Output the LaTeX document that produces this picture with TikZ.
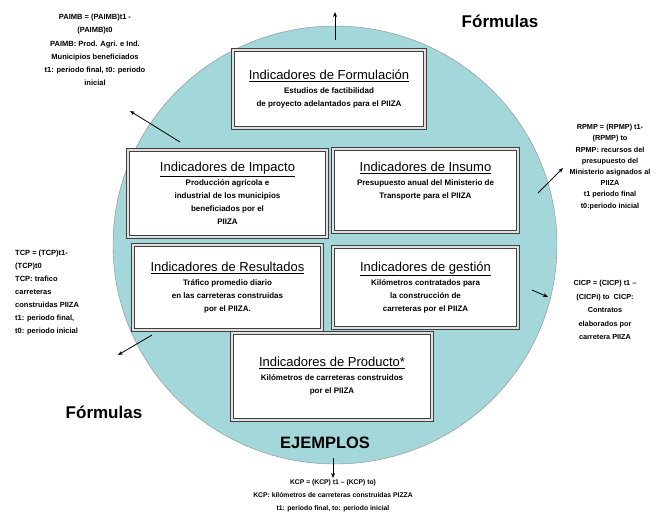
\documentclass[tikz,border=0pt]{standalone}
\usepackage{fontspec}
\setmainfont{Liberation Sans}
\usetikzlibrary{arrows.meta}
\definecolor{discteal}{RGB}{163,215,217}
\tikzstyle{indbox} = [draw=black!75, double=black!12, double distance=1.3pt, line width=1pt, fill=white, align=center, inner sep=2pt, font=\fontsize{8}{13}\selectfont\bfseries]
\tikzstyle{formtext} = [align=center, inner sep=1pt, font=\fontsize{7.5}{12}\selectfont\bfseries]
\tikzstyle{bigtitle} = [font=\fontsize{17}{20}\selectfont\bfseries]
\tikzstyle{pointer} = [draw, line width=0.8pt, -{Stealth[length=5pt,width=4pt]}]
\newcommand{\indtitle}[1]{{\fontsize{13}{15}\selectfont\mdseries\underline{#1}}\\[1pt]}

\begin{document}
\begin{tikzpicture}[x=1pt, y=-1pt]
    \useasboundingbox[fill=white] (0,0) rectangle (672,531);
    \draw[fill=discteal, draw=black!45, thin] (335,245) ellipse [x radius=222pt, y radius=219pt];

    \node[indbox, minimum width=192pt, minimum height=78pt] (formulacion) at (329,89) {\indtitle{Indicadores de Formulación}Estudios de factibilidad\\de proyecto adelantados para el PIIZA};
    \node[indbox, minimum width=199pt, minimum height=87pt] (impacto) at (227.5,193.5) {\indtitle{Indicadores de Impacto}Producción agrícola e\\industrial de los municipios\\beneficiados por el\\PIIZA};
    \node[indbox, minimum width=185pt, minimum height=83pt] (insumo) at (425.5,190.5) {\indtitle{Indicadores de Insumo}Presupuesto anual del Ministerio de\\Transporte para el PIIZA\\[8pt]\mbox{}};
    \node[indbox, minimum width=189pt, minimum height=85pt] (resultados) at (227.5,287.5) {\indtitle{Indicadores de Resultados}Tráfico promedio diario\\en las carreteras construidas\\por el PIIZA.};
    \node[indbox, minimum width=185pt, minimum height=81pt] (gestion) at (425.5,287.5) {\indtitle{Indicadores de gestión}Kilómetros contratados para\\la construcción de\\carreteras por el PIIZA};
    \node[indbox, minimum width=200pt, minimum height=87pt] (producto) at (332,376.5) {\indtitle{Indicadores de Producto*}Kilómetros de carreteras construidos\\por el PIIZA};

    \node[bigtitle] (formulas_top) at (500,21) {Fórmulas};
    \node[bigtitle] (formulas_bottom) at (104,412) {Fórmulas};
    \node[bigtitle, font=\fontsize{16.5}{20}\selectfont\bfseries] (ejemplos) at (325,443) {EJEMPLOS};

    \node[formtext, font=\fontsize{7.5}{13.2}\selectfont\bfseries] (paimb) at (95,50) {PAIMB = (PAIMB)t1 -\\(PAIMB)t0\\PAIMB: Prod. Agri. e Ind.\\Municipios beneficiados\\t1: periodo final, t0: periodo\\inicial};
    \node[formtext, font=\fontsize{7.3}{11.2}\selectfont\bfseries] (rpmp) at (610,167) {RPMP = (RPMP) t1-\\(RPMP) to\\RPMP: recursos del\\presupuesto del\\Ministerio asignados al\\PIIZA\\t1 periodo final\\t0:periodo inicial};
    \node[formtext, font=\fontsize{7.3}{13.5}\selectfont\bfseries] (cicp) at (605,310) {CICP = (CICP) t1 –\\(CICPi) to\ \ CICP:\\Contratos\\elaborados por\\carretera PIIZA};
    \node[formtext, align=left, anchor=west, font=\fontsize{7.5}{13}\selectfont\bfseries] (tcp) at (14,293) {TCP = (TCP)t1-\\(TCP)t0\\TCP: trafico\\carreteras\\construidas PIIZA\\t1: periodo final,\\t0: periodo inicial};
    \node[formtext, font=\fontsize{6.8}{13}\selectfont\bfseries] (kcp) at (333,496) {KCP = (KCP) t1 – (KCP) to)\\KCP: kilómetros de carreteras construidas PIZZA\\t1: periodo final, to: periodo inicial};

    \coordinate (top_tail) at (335,40);
    \coordinate (top_tip) at (335,12);
    \coordinate (paimb_tail) at (180,142);
    \coordinate (paimb_tip) at (130,111);
    \coordinate (rpmp_tail) at (538,193);
    \coordinate (rpmp_tip) at (563,168);
    \coordinate (cicp_tail) at (532,290);
    \coordinate (cicp_tip) at (548,297);
    \coordinate (tcp_tail) at (152,335);
    \coordinate (tcp_tip) at (118,355);
    \coordinate (kcp_tail) at (333,458);
    \coordinate (kcp_tip) at (333,478);
    \draw[pointer] (top_tail) -- (top_tip);
    \draw[pointer] (paimb_tail) -- (paimb_tip);
    \draw[pointer] (rpmp_tail) -- (rpmp_tip);
    \draw[pointer] (cicp_tail) -- (cicp_tip);
    \draw[pointer] (tcp_tail) -- (tcp_tip);
    \draw[pointer] (kcp_tail) -- (kcp_tip);
\end{tikzpicture}
\end{document}
